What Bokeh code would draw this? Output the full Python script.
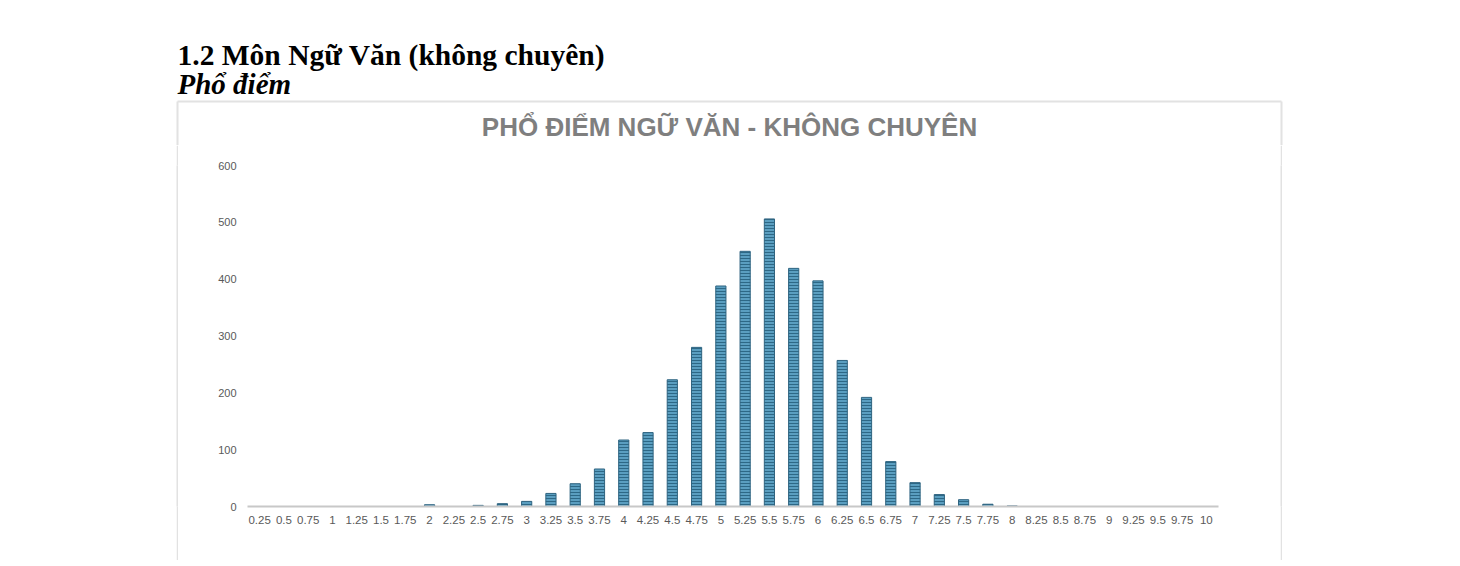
from bokeh.plotting import figure
from bokeh.layouts import column, row
from bokeh.models import FactorRange, Range1d, ColumnDataSource, FixedTicker, Spacer
from bokeh.core.properties import value
from bokeh.embed import file_html
from bokeh.resources import INLINE

heading = "1.2 Môn Ngữ Văn (không chuyên)"
subheading = "Phổ điểm"
chart_title = "PHỔ ĐIỂM NGỮ VĂN - KHÔNG CHUYÊN"

scores = ["0.25", "0.5", "0.75", "1", "1.25", "1.5", "1.75", "2", "2.25", "2.5",
          "2.75", "3", "3.25", "3.5", "3.75", "4", "4.25", "4.5", "4.75", "5",
          "5.25", "5.5", "5.75", "6", "6.25", "6.5", "6.75", "7", "7.25", "7.5",
          "7.75", "8", "8.25", "8.5", "8.75", "9", "9.25", "9.5", "9.75", "10"]
counts = [0, 0, 0, 0, 0, 0, 0, 3, 0, 2,
          5, 9, 23, 40, 66, 117, 130, 223, 280, 388,
          449, 506, 419, 397, 257, 192, 79, 42, 21, 12,
          4, 1, 0, 0, 0, 0, 0, 0, 0, 0]
y_ticks = [0, 100, 200, 300, 400, 500, 600]

# page geometry (pixels)
W, H = 1452, 560
TOP_H = 145            # header strip height
BOX_L, BOX_R, BOX_T = 177, 1281, 101
CH_L, CH_R = 178, 1280  # chart figure horizontal extent
FRAME_L, FRAME_R, FRAME_T, FRAME_B = 247, 1218, 165, 506
BOX_COLOR = "#e2e2e2"


def blank(width, height, fill="white"):
    f = figure(width=width, height=height, output_backend="svg", toolbar_location=None,
               title=None,
               x_range=Range1d(0, width), y_range=Range1d(height, 0),
               x_axis_type=None, y_axis_type=None, min_border=0,
               background_fill_color=fill, border_fill_color=fill)
    f.outline_line_color = None
    return f


# ---- header strip: headings, chart title, top of chart box
top = blank(W, TOP_H)
top.segment(x0=[BOX_L, BOX_L, BOX_R], y0=[BOX_T, BOX_T, BOX_T],
            x1=[BOX_R, BOX_L, BOX_R], y1=[BOX_T, TOP_H, TOP_H],
            line_color=BOX_COLOR, line_width=2)
top.text(x=[BOX_L], y=[54], text=[heading], text_font=value("Liberation Serif"),
         text_font_style="bold", text_font_size="29.5px", text_color="#000000",
         text_align="left", text_baseline="middle")
top.text(x=[BOX_L], y=[83], text=[subheading], text_font=value("Liberation Serif"),
         text_font_style="bold italic", text_font_size="29px", text_color="#000000",
         text_align="left", text_baseline="middle")
top.text(x=[729], y=[126], text=[chart_title], text_font=value("Liberation Sans"),
         text_font_style="bold", text_font_size="26px", text_color="#7f7f7f",
         text_align="center", text_baseline="middle")

# ---- chart box sides (thin grey figures) and chart
bot_h = H - TOP_H
left_gap = Spacer(width=BOX_L - 1, height=bot_h)
left_edge = blank(CH_L - (BOX_L - 1), bot_h, fill=BOX_COLOR)
right_edge = blank(2, bot_h, fill=BOX_COLOR)

src = ColumnDataSource(dict(score=scores, count=counts))
p = figure(width=CH_R - CH_L, height=bot_h, output_backend="svg", toolbar_location=None,
           title=None,
           x_range=FactorRange(factors=scores, range_padding=0),
           y_range=Range1d(0, 600),
           min_border_left=FRAME_L - CH_L, min_border_right=CH_R - FRAME_R,
           min_border_top=FRAME_T - TOP_H, min_border_bottom=H - FRAME_B,
           background_fill_color="white", border_fill_color="white")
p.outline_line_color = None
p.xgrid.grid_line_color = None
p.ygrid.grid_line_color = None

p.vbar(x="score", top="count", bottom=0, width=0.42, source=src,
       fill_color="#5a9ec0", line_color="#2f6480", line_width=1,
       hatch_pattern="-", hatch_color="#2d6886", hatch_scale=3, hatch_weight=1)

p.yaxis.ticker = FixedTicker(ticks=y_ticks)
p.yaxis.axis_line_color = None
p.yaxis.major_tick_line_color = None
p.yaxis.major_tick_out = 0
p.yaxis.major_tick_in = 0
p.yaxis.minor_tick_line_color = None
p.yaxis.major_label_standoff = 11
p.yaxis.major_label_text_font = "Liberation Sans"
p.yaxis.major_label_text_font_size = "11px"
p.yaxis.major_label_text_color = "#595959"

p.xaxis.axis_line_color = "#c8c8c8"
p.xaxis.axis_line_width = 2
p.xaxis.major_tick_line_color = None
p.xaxis.major_tick_out = 0
p.xaxis.major_tick_in = 0
p.xaxis.minor_tick_line_color = None
p.xaxis.major_label_standoff = 9
p.xaxis.major_label_text_font = "Liberation Sans"
p.xaxis.major_label_text_font_size = "11.5px"
p.xaxis.major_label_text_color = "#595959"

layout = column(top, row(left_gap, left_edge, p, right_edge, spacing=0), spacing=0)

open("out.html", "w").write(file_html(layout, INLINE))
